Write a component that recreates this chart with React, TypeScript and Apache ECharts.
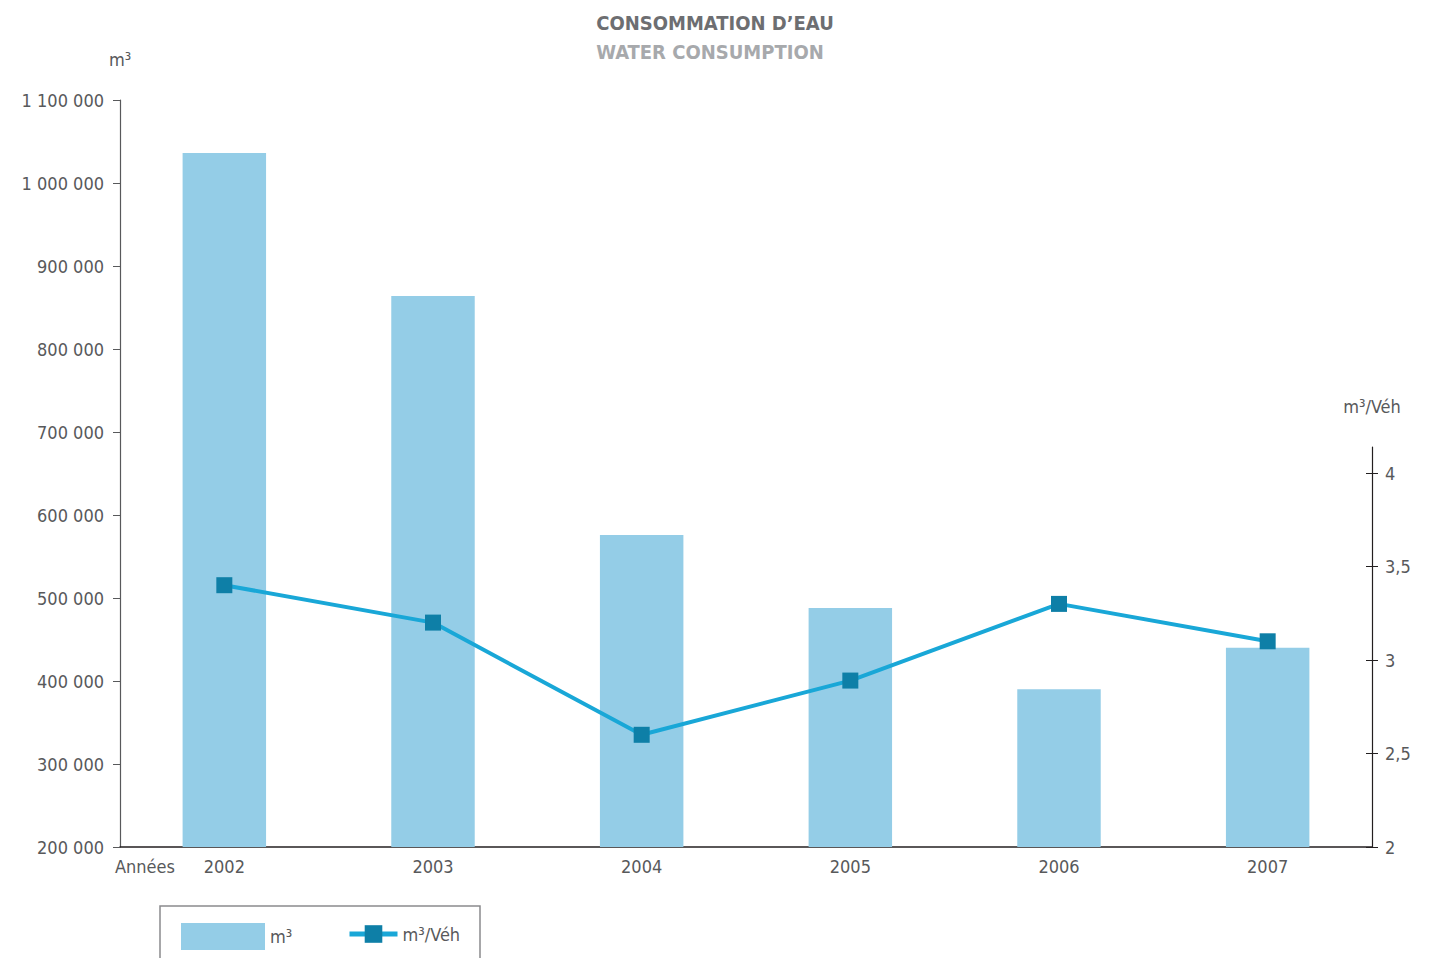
import React, { useEffect, useRef } from "react";
import * as echarts from "echarts";

const years = ["2002", "2003", "2004", "2005", "2006", "2007"];
const volumeM3 = [1036000, 864000, 576000, 488000, 390000, 440000];
const perVehicle = [3.4, 3.2, 2.6, 2.89, 3.3, 3.1];
const rightTicks = [2, 2.5, 3, 3.5, 4];
const titleFr = "CONSOMMATION D\u2019EAU";
const titleEn = "WATER CONSUMPTION";
const barName = "m³";
const lineName = "m³/Véh";

const FONT = "'DejaVu Sans Condensed', 'Liberation Sans Narrow', 'Roboto', sans-serif";
const TXT = "#58595b";
const FS = 18;

export default function App() {
  const ref = useRef<HTMLDivElement>(null);
  useEffect(() => {
    const chart = echarts.init(ref.current!, null, { renderer: "svg" });
    const fmtThousands = (v: number) =>
      String(v).replace(/\B(?=(\d{3})+(?!\d))/g, " ");
    const rightMax = 2 + 400 / 187;
    chart.setOption({
      animation: false,
      backgroundColor: "#ffffff",
      textStyle: { fontFamily: FONT },
      title: [
        {
          text: titleFr,
          left: 710,
          top: 8,
          textAlign: "center",
          textStyle: { fontFamily: FONT, fontSize: 20, fontWeight: "bold", color: "#6d6e71" },
        },
        {
          text: titleEn,
          left: 705,
          top: 37,
          textAlign: "center",
          textStyle: { fontFamily: FONT, fontSize: 20, fontWeight: "bold", color: "#a7a9ac" },
        },
      ],
      grid: [
        { left: 120, right: 67, top: 100, bottom: 111 },
        { left: 120, right: 67, top: 447, bottom: 111 },
      ],
      xAxis: [
        {
          type: "category",
          gridIndex: 0,
          data: years,
          axisLine: { lineStyle: { color: "#231f20", width: 1.5 } },
          axisTick: { show: false },
          axisLabel: { color: TXT, fontFamily: FONT, fontSize: FS, margin: 10 },
        },
        {
          type: "category",
          gridIndex: 1,
          data: years,
          show: false,
        },
      ],
      yAxis: [
        {
          type: "value",
          gridIndex: 0,
          min: 200000,
          max: 1100000,
          interval: 100000,
          name: "m³",
          nameLocation: "end",
          nameGap: 32,
          nameTextStyle: { color: TXT, fontFamily: FONT, fontSize: FS, align: "center" },
          axisLine: { show: true, lineStyle: { color: "#58595b", width: 1.2 } },
          axisTick: { show: true, length: 7, lineStyle: { color: "#58595b" } },
          splitLine: { show: false },
          axisLabel: {
            color: TXT,
            fontFamily: FONT,
            fontSize: FS,
            margin: 16,
            formatter: (v: number) => fmtThousands(v),
          },
        },
        {
          type: "value",
          gridIndex: 1,
          position: "right",
          min: 2,
          max: rightMax,
          interval: 0.5,
          name: "m³/Véh",
          nameLocation: "end",
          nameGap: 32,
          nameTextStyle: { color: TXT, fontFamily: FONT, fontSize: FS, align: "center" },
          axisLine: { show: true, lineStyle: { color: "#231f20", width: 1.2 } },
          axisTick: { show: true, length: 6, customValues: rightTicks, lineStyle: { color: "#231f20" } },
          splitLine: { show: false },
          axisLabel: {
            color: TXT,
            fontFamily: FONT,
            fontSize: FS,
            margin: 13,
            customValues: rightTicks,
            formatter: (v: number) => String(v).replace(".", ","),
          },
        },
        {
          type: "value",
          gridIndex: 1,
          position: "right",
          min: 2,
          max: rightMax,
          interval: 0.5,
          axisLine: { show: false },
          axisTick: { show: true, inside: true, length: 6, customValues: rightTicks, lineStyle: { color: "#231f20" } },
          axisLabel: { show: false },
          splitLine: { show: false },
        },
      ],
      legend: [
        {
          left: 176,
          top: 918,
          itemWidth: 84,
          itemHeight: 27,
          itemGap: 10,
          icon: "rect",
          data: [barName],
          textStyle: { color: TXT, fontFamily: FONT, fontSize: FS },
        },
        {
          left: 342,
          top: 920,
          itemWidth: 48,
          itemHeight: 22,
          itemGap: 8,
          data: [lineName],
          lineStyle: { width: 5 },
          textStyle: { color: TXT, fontFamily: FONT, fontSize: FS },
        },
      ],
      graphic: [
        {
          type: "rect",
          shape: { x: 160, y: 906, width: 320, height: 70 },
          style: { fill: "none", stroke: "#8a8b8d", lineWidth: 1.5 },
        },
        {
          type: "text",
          x: 115,
          y: 857,
          style: { text: "Années", fill: TXT, font: `${FS}px ${FONT}` },
        },
      ],
      series: [
        {
          name: barName,
          type: "bar",
          xAxisIndex: 0,
          yAxisIndex: 0,
          data: volumeM3,
          barWidth: "40%",
          itemStyle: { color: "#94cde7" },
        },
        {
          name: lineName,
          type: "line",
          xAxisIndex: 1,
          yAxisIndex: 1,
          data: perVehicle,
          symbol: "rect",
          symbolSize: 16,
          lineStyle: { color: "#19a7d7", width: 4 },
          itemStyle: { color: "#0e7fa7" },
        },
      ],
    });
    return () => chart.dispose();
  }, []);
  return (
    <div
      ref={ref}
      style={{ position: "fixed", left: 0, top: 0, width: 1439, height: 958 }}
    />
  );
}
